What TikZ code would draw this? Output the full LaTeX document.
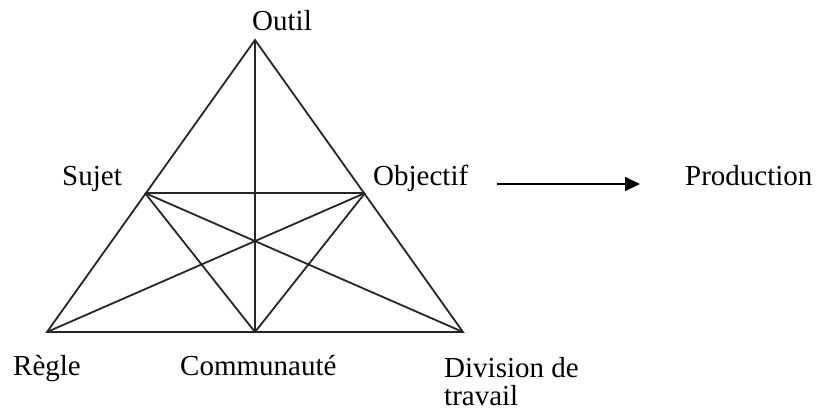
\documentclass[tikz,border=0pt]{standalone}
\usepackage{fontspec}
\setmainfont{Liberation Serif}
\usetikzlibrary{arrows.meta}
\begin{document}
\begin{tikzpicture}[x=1pt,y=-1pt,
  edge/.style={line width=1.8pt,black!85,line join=miter},
  lbl/.style={inner sep=0pt,anchor=base west,font=\fontsize{29}{34}\selectfont},
  flow/.style={line width=1.8pt,-{Triangle[length=15pt,width=14pt]}}]
\useasboundingbox (0,0) rectangle (816,416);
\coordinate (outil) at (255,40);
\coordinate (sujet) at (145,193);
\coordinate (objectif) at (365,193);
\coordinate (regle) at (47,332);
\coordinate (comm) at (255,332);
\coordinate (div) at (463,332);
\draw[edge] (regle) -- (outil) -- (div) -- cycle;
\draw[edge] (outil) -- (comm);
\draw[edge] (sujet) -- (objectif);
\draw[edge] (sujet) -- (comm) -- (objectif);
\draw[edge] (sujet) -- (div);
\draw[edge] (objectif) -- (regle);
\coordinate (a1) at (497,184);
\coordinate (a2) at (640,184);
\draw[flow] (a1) -- (a2);
\node[lbl] (toutil) at (252,30) {Outil};
\node[lbl] (tsujet) at (62,185) {Sujet};
\node[lbl] (tobj) at (373,185) {Objectif};
\node[lbl] (tprod) at (685,185) {Production};
\node[lbl] (tregle) at (13,375) {Règle};
\node[lbl] (tcomm) at (180,375) {Communauté};
\node[lbl] (tdiv1) at (444,377) {Division de};
\node[lbl] (tdiv2) at (444,405) {travail};
\end{tikzpicture}
\end{document}
